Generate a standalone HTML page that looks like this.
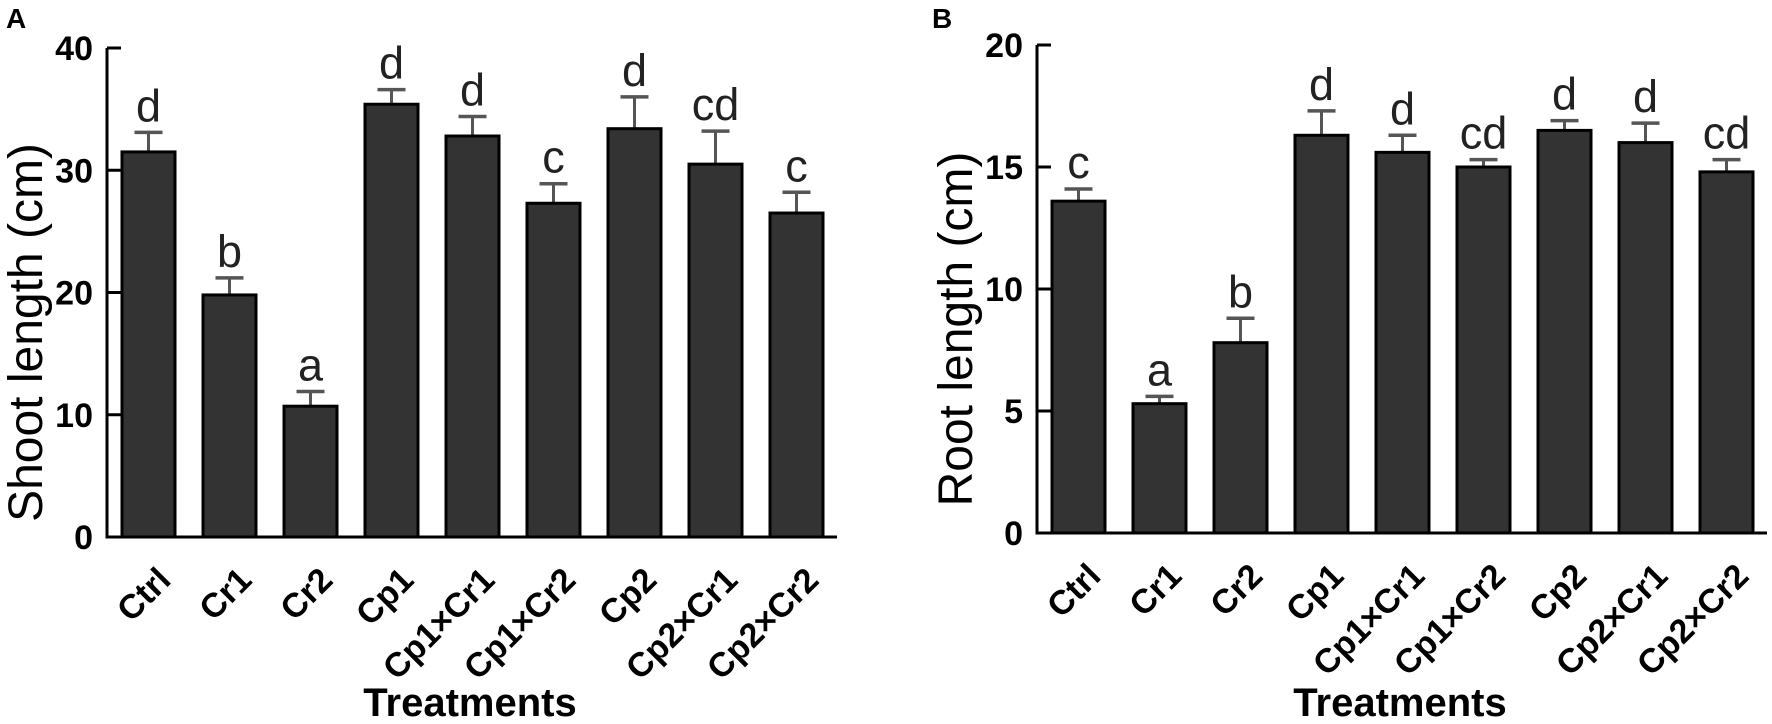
<!DOCTYPE html>
<html><head><meta charset="utf-8"><style>
html,body{margin:0;padding:0;background:#fff;}
svg{display:block;font-family:"Liberation Sans",Arial,sans-serif;}
</style></head><body>
<svg id="chart" width="1772" height="724" viewBox="0 0 1772 724" xmlns="http://www.w3.org/2000/svg"></svg>
<script>
const categories = ["Ctrl","Cr1","Cr2","Cp1","Cp1×Cr1","Cp1×Cr2","Cp2","Cp2×Cr1","Cp2×Cr2"];
const shootMeans = [31.5,19.8,10.7,35.4,32.8,27.3,33.4,30.5,26.5];
const shootErr = [1.6,1.4,1.2,1.2,1.6,1.6,2.6,2.7,1.7];
const shootLetters = ["d","b","a","d","d","c","d","cd","c"];
const shootTicks = [0,10,20,30,40];
const rootMeans = [13.6,5.3,7.8,16.3,15.6,15.0,16.5,16.0,14.8];
const rootErr = [0.5,0.3,1.0,1.0,0.7,0.3,0.4,0.8,0.5];
const rootLetters = ["c","a","b","d","d","cd","d","d","cd"];
const rootTicks = [0,5,10,15,20];

const NS="http://www.w3.org/2000/svg";
const svg=document.getElementById('chart');
function mk(tag,attrs,parent){const e=document.createElementNS(NS,tag);for(const k in attrs)e.setAttribute(k,attrs[k]);(parent||svg).appendChild(e);return e;}

function panel(cfg){
  const g=mk('g',{});
  
  
  const y=v=>cfg.y0-(v/cfg.max)*(cfg.y0-cfg.yTop);
  const xL=i=>cfg.axisX+15+81*i;
  const bw=53;
  const pl=mk('text',{x:cfg.letterX,y:28,'font-size':28,'font-weight':'bold',fill:'#000'},g);
  pl.textContent=cfg.letter;
  
  
  cfg.means.forEach((m,i)=>{
    const cx=xL(i)+bw/2;
    const top=y(m), et=y(m+cfg.err[i]);
    const eb=mk('line',{x1:cx,y1:top,x2:cx,y2:et,stroke:'#555','stroke-width':3},g);
    
    
    const cap=mk('line',{x1:cx-14,y1:et,x2:cx+14,y2:et,stroke:'#555','stroke-width':3.5},g);
    
    
    const r=mk('rect',{x:xL(i),y:top,width:bw,height:cfg.y0-top,fill:'#333',stroke:'#000','stroke-width':3},g);
    
    
    const t=mk('text',{x:cx,y:et-11,'text-anchor':'middle','font-size':45,fill:'#222'},g);
    t.textContent=cfg.letters[i];
    
    
    const xl=mk('text',{x:0,y:0,'text-anchor':'end','font-size':34,'font-weight':'bold',fill:'#000',transform:`translate(${cx+24},${cfg.y0+45}) rotate(-45)`},g);
    xl.textContent=categories[i];
    
    
  });
  const ya=mk('line',{x1:cfg.axisX,y1:cfg.yTop,x2:cfg.axisX,y2:cfg.y0+1.5,stroke:'#000','stroke-width':3},g);
  
  
  const xa=mk('line',{x1:cfg.axisX-1.5,y1:cfg.y0,x2:xL(8)+bw+14,y2:cfg.y0,stroke:'#000','stroke-width':3},g);
  
  
  cfg.ticks.forEach(tv=>{
    const ty=y(tv);
    if(tv>0){const tk=mk('line',{x1:cfg.axisX,y1:ty,x2:cfg.axisX+14,y2:ty,stroke:'#000','stroke-width':3},g);
    
    }
    const tl=mk('text',{x:cfg.axisX-14,y:ty+12,'text-anchor':'end','font-size':34,'font-weight':'bold',fill:'#000'},g);
    tl.textContent=tv;
    
    
  });
  const yt=mk('text',{x:0,y:0,'text-anchor':'middle','font-size':48,fill:'#000',transform:`translate(${cfg.titleX},${(cfg.yTop+cfg.y0)/2+40}) rotate(-90)`},g);
  yt.textContent=cfg.ytitle;
  
  
  const xt=mk('text',{x:(cfg.axisX+xL(8)+bw)/2+5,y:716,'text-anchor':'middle','font-size':40,'font-weight':'bold',fill:'#000'},g);
  xt.textContent='Treatments';
  
  
}
panel({name:'shoot-length-panel',letter:'A',letterX:6,axisX:107,y0:537,yTop:48,max:40,means:shootMeans,err:shootErr,letters:shootLetters,ticks:shootTicks,ytitle:'Shoot length (cm)',titleX:42});
panel({name:'root-length-panel',letter:'B',letterX:932,axisX:1037,y0:533,yTop:45,max:20,means:rootMeans,err:rootErr,letters:rootLetters,ticks:rootTicks,ytitle:'Root length (cm)',titleX:972});
</script>
</body></html>
